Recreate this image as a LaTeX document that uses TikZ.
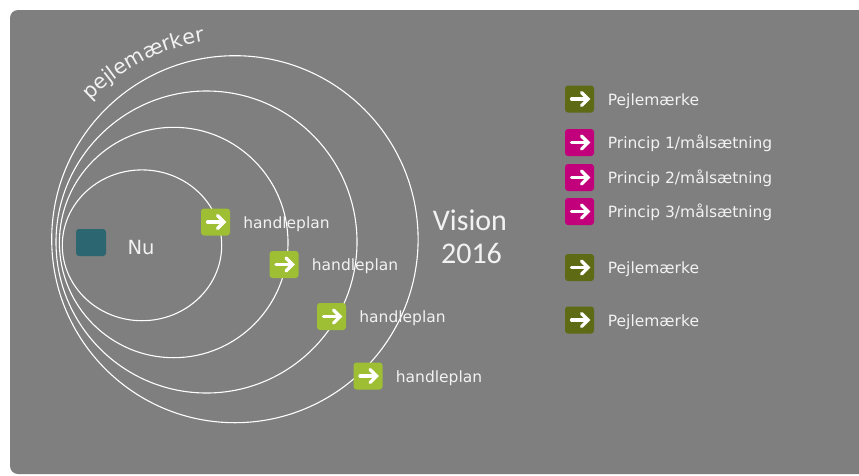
\documentclass[tikz,border=0pt]{standalone}
\usepackage{fontspec}
\setmainfont{DejaVu Sans}
\newfontfamily\calfont{Carlito}
\usetikzlibrary{decorations.text}
\definecolor{bg}{HTML}{7F7F7F}
\definecolor{lgreen}{HTML}{9EBE34}
\definecolor{olive}{HTML}{5E6A14}
\definecolor{pmag}{HTML}{C2007C}
\definecolor{tealsq}{HTML}{2C6670}
\definecolor{txt}{HTML}{F2F2F2}
\begin{document}
\begin{tikzpicture}[x=1pt,y=-1pt,
  icon/.style={fill=#1, rounded corners=3pt, minimum width=29pt, minimum height=27pt, inner sep=0pt,
    path picture={
      \draw[white, line width=3.2pt, line cap=round, sharp corners]
        ([xshift=-8pt]path picture bounding box.center) -- ([xshift=7.5pt]path picture bounding box.center);
      \draw[white, line width=3.2pt, line cap=round, line join=miter, sharp corners]
        ([xshift=2pt,yshift=6.5pt]path picture bounding box.center) -- ([xshift=8.5pt]path picture bounding box.center) -- ([xshift=2pt,yshift=-6.5pt]path picture bounding box.center);
    }},
  lbl/.style={anchor=base west, text=txt, font=\fontsize{15.5}{18}\selectfont, inner sep=0pt},
  ring/.style={draw=white, line width=1.1pt}
]
\useasboundingbox (0,0) rectangle (859,475);
\fill[bg, rounded corners=8pt] (10,10) rectangle (875,474);

% rings
\coordinate (o1) at (142,245.3);
\coordinate (o2) at (173.7,242.5);
\coordinate (o3) at (206.5,242);
\coordinate (o4) at (234.9,239.2);
\draw[ring] (o1) ellipse [x radius=79.7pt, y radius=75.4pt];
\draw[ring] (o2) ellipse [x radius=114.3pt, y radius=115.2pt];
\draw[ring] (o3) ellipse [x radius=150.5pt, y radius=151pt];
\draw[ring] (o4) ellipse [x radius=183.2pt, y radius=183.5pt];

% curved label
\path[decorate, decoration={text along path, text align=center,
  text={|\fontsize{20.5}{20.5}\selectfont\color{txt}|pejlemærker}}]
  (o4) ++(150:200pt) arc[start angle=150, end angle=85, radius=200pt];

% Nu
\node[fill=tealsq, rounded corners=3pt, minimum width=30pt, minimum height=27pt, inner sep=0pt] (nu) at (91,242.5) {};
\node[anchor=base west, text=txt, font=\fontsize{19.5}{22}\selectfont, inner sep=0pt] (nut) at (127.3,254) {Nu};

% handleplan icons
\node[icon=lgreen] (h1) at (215.5,222) {};
\node[icon=lgreen] (h2) at (284,264.5) {};
\node[icon=lgreen] (h3) at (331.5,316.5) {};
\node[icon=lgreen] (h4) at (368,376) {};
\node[lbl] (h1t) at ([xshift=13pt,yshift=-6pt]h1.east) {handleplan};
\node[lbl] (h2t) at ([xshift=13pt,yshift=-6pt]h2.east) {handleplan};
\node[lbl] (h3t) at ([xshift=13pt,yshift=-6pt]h3.east) {handleplan};
\node[lbl] (h4t) at ([xshift=13pt,yshift=-6pt]h4.east) {handleplan};

% Vision
\node[anchor=base, text=txt, font=\calfont\fontsize{30}{33}\selectfont, inner sep=0pt] (vis) at (470,230) {Vision};
\node[anchor=base, text=txt, font=\calfont\fontsize{30}{33}\selectfont, inner sep=0pt] (yr) at (471.5,263) {2016};

% legend
\node[icon=olive] (p1) at (579.5,99) {};
\node[icon=pmag] (r1) at (579.5,142.5) {};
\node[icon=pmag] (r2) at (579.5,177.5) {};
\node[icon=pmag] (r3) at (579.5,211.5) {};
\node[icon=olive] (p2) at (579.5,267.5) {};
\node[icon=olive] (p3) at (579.5,320) {};
\node[lbl] (p1t) at ([xshift=13.5pt,yshift=-6pt]p1.east) {Pejlemærke};
\node[lbl] (r1t) at ([xshift=13.5pt,yshift=-6pt]r1.east) {Princip 1/målsætning};
\node[lbl] (r2t) at ([xshift=13.5pt,yshift=-6pt]r2.east) {Princip 2/målsætning};
\node[lbl] (r3t) at ([xshift=13.5pt,yshift=-6pt]r3.east) {Princip 3/målsætning};
\node[lbl] (p2t) at ([xshift=13.5pt,yshift=-6pt]p2.east) {Pejlemærke};
\node[lbl] (p3t) at ([xshift=13.5pt,yshift=-6pt]p3.east) {Pejlemærke};
\end{tikzpicture}
\end{document}
